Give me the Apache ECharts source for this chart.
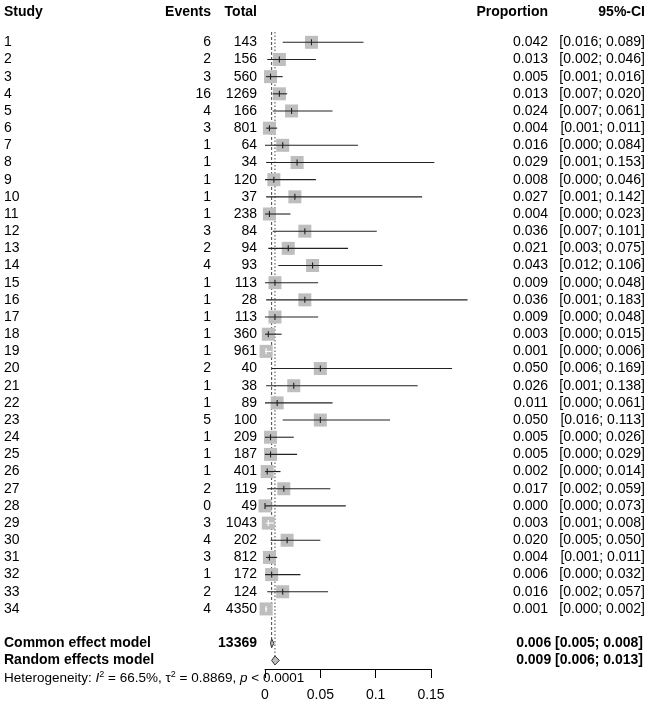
<!DOCTYPE html>
<html>
<head>
<meta charset="utf-8">
<script src="https://cdn.jsdelivr.net/npm/echarts@6/dist/echarts.min.js"></script>
<style>html,body{margin:0;padding:0;background:#fff}#c{width:650px;height:706px}</style>
</head>
<body>
<div id="c"></div>
<script>
// ---------- data ----------
const studies = ['1','2','3','4','5','6','7','8','9','10','11','12','13','14','15','16','17','18','19','20','21','22','23','24','25','26','27','28','29','30','31','32','33','34'];
const events  = [6,2,3,16,4,3,1,1,1,1,1,3,2,4,1,1,1,1,1,2,1,1,5,1,1,1,2,0,3,4,3,1,2,4];
const totals  = [143,156,560,1269,166,801,64,34,120,37,238,84,94,93,113,28,113,360,961,40,38,89,100,209,187,401,119,49,1043,202,812,172,124,4350];
const props   = [0.042,0.013,0.005,0.013,0.024,0.004,0.016,0.029,0.008,0.027,0.004,0.036,0.021,0.043,0.009,0.036,0.009,0.003,0.001,0.050,0.026,0.011,0.050,0.005,0.005,0.002,0.017,0.000,0.003,0.020,0.004,0.006,0.016,0.001];
const lower   = [0.016,0.002,0.001,0.007,0.007,0.001,0.000,0.001,0.000,0.001,0.000,0.007,0.003,0.012,0.000,0.001,0.000,0.000,0.000,0.006,0.001,0.000,0.016,0.000,0.000,0.000,0.002,0.000,0.001,0.005,0.001,0.000,0.002,0.000];
const upper   = [0.089,0.046,0.016,0.020,0.061,0.011,0.084,0.153,0.046,0.142,0.023,0.101,0.075,0.106,0.048,0.183,0.048,0.015,0.006,0.169,0.138,0.061,0.113,0.026,0.029,0.014,0.059,0.073,0.008,0.050,0.011,0.032,0.057,0.002];

const commonLabel = 'Common effect model';
const randomLabel = 'Random effects model';
const commonTotal = 13369;
const commonEst = [0.006, 0.005, 0.008];   // estimate, lower, upper
const randomEst = [0.009, 0.006, 0.013];
const hetI2 = '66.5%';
const hetTau2 = '0.8869';
const hetP = '< 0.0001';
const headers = ['Study', 'Events', 'Total', 'Proportion', '95%-CI'];
const xMin = 0, xMax = 0.15, xInterval = 0.05;

// ---------- layout ----------
const FONT = 'Liberation Sans, Arial, Helvetica, sans-serif';
const FS = 14;
const BOX = 13;
const COL = { study: 4, events: 211, total: 257, prop: 548, ci: 645 };
const ROW_COMMON = studies.length + 2, ROW_RANDOM = studies.length + 3, ROW_HET = studies.length + 4, ROW_HEAD = -0.75;

const f3 = v => v.toFixed(3);
const ciText = (l, u) => '[' + f3(l) + '; ' + f3(u) + ']';

const studyData = studies.map((s, i) => [props[i], lower[i], upper[i], i + 1]);

function txt(x, y, text, align, bold, size) {
  return { type: 'text', x: x, y: y, style: { text: text, fill: '#000', font: (bold ? 'bold ' : '') + (size || FS) + 'px ' + FONT, align: align, verticalAlign: 'middle' } };
}

const tableRows = [];
tableRows.push({ row: ROW_HEAD, kind: 'head' });
studies.forEach((s, i) => tableRows.push({ row: i + 1, kind: 'study', i: i }));
tableRows.push({ row: ROW_COMMON, kind: 'common' });
tableRows.push({ row: ROW_RANDOM, kind: 'random' });
tableRows.push({ row: ROW_HET, kind: 'het' });

const chart = echarts.init(document.getElementById('c'), null, { renderer: 'canvas' });
chart.setOption({
  animation: false,
  backgroundColor: '#fff',
  grid: { left: 265, width: 166, top: 25.13, height: 643.9 },
  xAxis: {
    type: 'value', position: 'bottom', min: xMin, max: xMax, interval: xInterval,
    axisLine: { show: true, onZero: false, lineStyle: { color: '#000', width: 1 } },
    axisTick: { show: true, length: 9, lineStyle: { color: '#000', width: 1 } },
    axisLabel: { color: '#000', fontSize: FS, fontFamily: FONT, margin: 19 },
    splitLine: { show: false }
  },
  yAxis: { type: 'value', inverse: true, min: 0, max: 37.5, show: false, splitLine: { show: false } },
  series: [
    { // reference lines
      type: 'custom', silent: true,
      data: [[commonEst[0], 0.4, ROW_COMMON - 0.2, 0], [randomEst[0], 0.4, ROW_RANDOM - 0.25, 1]],
      encode: { x: 0, y: [1, 2] },
      renderItem: function (params, api) {
        const a = api.coord([api.value(0), api.value(1)]);
        const b = api.coord([api.value(0), api.value(2)]);
        const dotted = api.value(3) === 1;
        return { type: 'line', shape: { x1: a[0], y1: a[1], x2: b[0], y2: b[1] },
          style: { stroke: '#444', lineWidth: 1, lineDash: dotted ? [1.5, 2] : [3, 2] } };
      }
    },
    { // studies
      type: 'custom', silent: true,
      data: studyData,
      encode: { x: [0, 1, 2], y: 3 },
      renderItem: function (params, api) {
        const r = api.value(3);
        const pe = api.coord([api.value(0), r]);
        const pl = api.coord([api.value(1), r]);
        const ph = api.coord([api.value(2), r]);
        const inside = pl[0] >= pe[0] - BOX / 2 && ph[0] <= pe[0] + BOX / 2;
        const lc = inside ? '#fff' : '#222';
        return { type: 'group', children: [
          { type: 'rect', shape: { x: pe[0] - BOX / 2, y: pe[1] - BOX / 2, width: BOX, height: BOX }, style: { fill: '#bebebe' } },
          { type: 'line', shape: { x1: pl[0], y1: pe[1], x2: ph[0], y2: pe[1] }, style: { stroke: lc, lineWidth: 1.1 } },
          { type: 'line', shape: { x1: pe[0], y1: pe[1] - 3, x2: pe[0], y2: pe[1] + 3 }, style: { stroke: lc, lineWidth: 1.1 } }
        ] };
      }
    },
    { // diamonds
      type: 'custom', silent: true,
      data: [[commonEst[0], commonEst[1], commonEst[2], ROW_COMMON], [randomEst[0], randomEst[1], randomEst[2], ROW_RANDOM]],
      encode: { x: [0, 1, 2], y: 3 },
      renderItem: function (params, api) {
        const r = api.value(3);
        const pe = api.coord([api.value(0), r]);
        const pl = api.coord([api.value(1), r]);
        const ph = api.coord([api.value(2), r]);
        const h = 4.5;
        return { type: 'polygon', shape: { points: [[pl[0], pe[1]], [pe[0], pe[1] - h], [ph[0], pe[1]], [pe[0], pe[1] + h]] },
          style: { fill: '#bebebe', stroke: '#333', lineWidth: 1 } };
      }
    },
    { // table text
      type: 'custom', silent: true,
      data: tableRows.map(t => [0, t.row]),
      encode: { x: 0, y: 1 },
      renderItem: function (params, api) {
        const t = tableRows[params.dataIndex];
        const y = api.coord([0, api.value(1)])[1];
        const ch = [];
        if (t.kind === 'head') {
          ch.push(txt(COL.study, y, headers[0], 'left', true));
          ch.push(txt(COL.events, y, headers[1], 'right', true));
          ch.push(txt(COL.total, y, headers[2], 'right', true));
          ch.push(txt(COL.prop, y, headers[3], 'right', true));
          ch.push(txt(COL.ci, y, headers[4], 'right', true));
        } else if (t.kind === 'study') {
          const i = t.i;
          ch.push(txt(COL.study, y, studies[i], 'left', false));
          ch.push(txt(COL.events, y, String(events[i]), 'right', false));
          ch.push(txt(COL.total, y, String(totals[i]), 'right', false));
          ch.push(txt(COL.prop, y, f3(props[i]), 'right', false));
          ch.push(txt(COL.ci, y, ciText(lower[i], upper[i]), 'right', false));
        } else if (t.kind === 'common') {
          ch.push(txt(COL.study, y, commonLabel, 'left', true));
          ch.push(txt(COL.total, y, String(commonTotal), 'right', true));
          ch.push(txt(COL.ci - 2, y, f3(commonEst[0]) + ' ' + ciText(commonEst[1], commonEst[2]), 'right', true));
        } else if (t.kind === 'random') {
          ch.push(txt(COL.study, y, randomLabel, 'left', true));
          ch.push(txt(COL.ci - 2, y, f3(randomEst[0]) + ' ' + ciText(randomEst[1], randomEst[2]), 'right', true));
        } else {
          const base = 13.5;
          ch.push({ type: 'text', x: COL.study, y: y, style: {
            text: '{n|Heterogeneity: }{i|I}{s|2}{n| = ' + hetI2 + ', τ}{s|2}{n| = ' + hetTau2 + ', }{i|p}{n| ' + hetP + '}',
            align: 'left', verticalAlign: 'middle',
            rich: {
              n: { fontSize: base, fontFamily: FONT, fill: '#000', color: '#000', lineHeight: 16, verticalAlign: 'bottom' },
              i: { fontSize: base, fontFamily: FONT, fontStyle: 'italic', fill: '#000', color: '#000', lineHeight: 16, verticalAlign: 'bottom' },
              s: { fontSize: 9, fontFamily: FONT, fill: '#000', color: '#000', lineHeight: 16, verticalAlign: 'top' }
            }
          } });
        }
        return { type: 'group', children: ch };
      }
    }
  ]
});
</script>
</body>
</html>
